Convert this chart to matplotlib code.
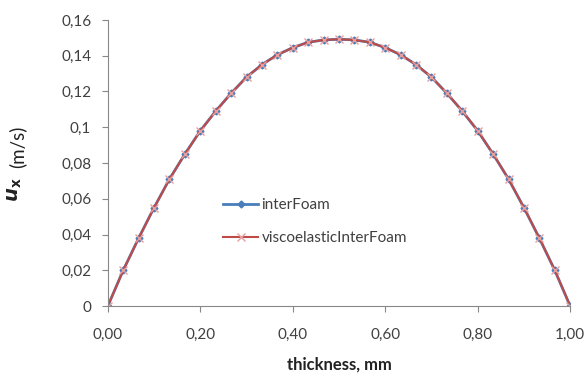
import matplotlib
matplotlib.use("Agg")
import matplotlib.pyplot as plt
from matplotlib.ticker import FuncFormatter, MultipleLocator

# === Data ===
thickness = [0.0, 0.0333, 0.0667, 0.1, 0.1333, 0.1667, 0.2, 0.2333, 0.2667, 0.3,
             0.3333, 0.3667, 0.4, 0.4333, 0.4667, 0.5, 0.5333, 0.5667, 0.6, 0.6333,
             0.6667, 0.7, 0.7333, 0.7667, 0.8, 0.8333, 0.8667, 0.9, 0.9333, 0.9667, 1.0]
u_interfoam = [0.0, 0.020, 0.038, 0.055, 0.071, 0.085, 0.098, 0.109, 0.119, 0.128,
               0.135, 0.1405, 0.1445, 0.1475, 0.1488, 0.1492, 0.1488, 0.1475, 0.1445, 0.1405,
               0.135, 0.128, 0.119, 0.109, 0.098, 0.085, 0.071, 0.055, 0.038, 0.020, 0.0]
u_visco = [0.0, 0.020, 0.038, 0.055, 0.071, 0.085, 0.098, 0.109, 0.119, 0.128,
           0.135, 0.1405, 0.1445, 0.1475, 0.1488, 0.1492, 0.1488, 0.1475, 0.1445, 0.1405,
           0.135, 0.128, 0.119, 0.109, 0.098, 0.085, 0.071, 0.055, 0.038, 0.020, 0.0]

plt.rcParams['font.family'] = ['Lato', 'DejaVu Sans']
plt.rcParams['mathtext.fontset'] = 'dejavusans'

fig = plt.figure(figsize=(5.86, 3.76), dpi=100)
ax = fig.add_axes([0.184, 0.186, 0.789, 0.761])

ax.plot(thickness, u_interfoam, color='#4A7EBB', lw=2, marker='D', ms=3.5,
        label='interFoam')
ax.plot(thickness, u_visco, color='#BE4B48', lw=1.5, marker='x', ms=6,
        mec='#E8A09E', mew=1.0, label='viscoelasticInterFoam')

ax.set_xlim(0, 1)
ax.set_ylim(0, 0.16)
ax.xaxis.set_major_locator(MultipleLocator(0.2))
ax.yaxis.set_major_locator(MultipleLocator(0.02))
ax.xaxis.set_major_formatter(FuncFormatter(lambda v, p: f"{v:.2f}".replace('.', ',')))
ax.yaxis.set_major_formatter(FuncFormatter(lambda v, p: f"{round(v, 2):g}".replace('.', ',')))

for side in ['top', 'right']:
    ax.spines[side].set_visible(False)
for side in ['left', 'bottom']:
    ax.spines[side].set_color('#888888')
    ax.spines[side].set_linewidth(0.8)
ax.tick_params(colors='#888888', labelcolor='#404040', labelsize=11, length=4,
               direction='out', width=0.8)
ax.tick_params(axis='x', pad=12)
ax.tick_params(axis='y', pad=8)

ax.set_xlabel("thickness, mm", fontsize=12, fontweight='bold', color='#222222', labelpad=10)

# y label: big bold-italic u with bold subscript x, then regular (m/s)
fig.text(15 / 586, 0.463, r"$\mathbfit{u}_{\mathbf{x}}$", fontsize=14, rotation=90,
         ha='center', va='bottom', color='#222222')
fig.text(17 / 586, 0.553, "(m/s)", fontsize=13.5, rotation=90,
         ha='center', va='bottom', color='#222222')

ax.legend(loc='upper left', bbox_to_anchor=(0.22, 0.425), frameon=False, fontsize=11,
          handlelength=2.3, handletextpad=0.2, labelspacing=1.25, labelcolor='#404040')

plt.savefig("out.png", dpi=100)
